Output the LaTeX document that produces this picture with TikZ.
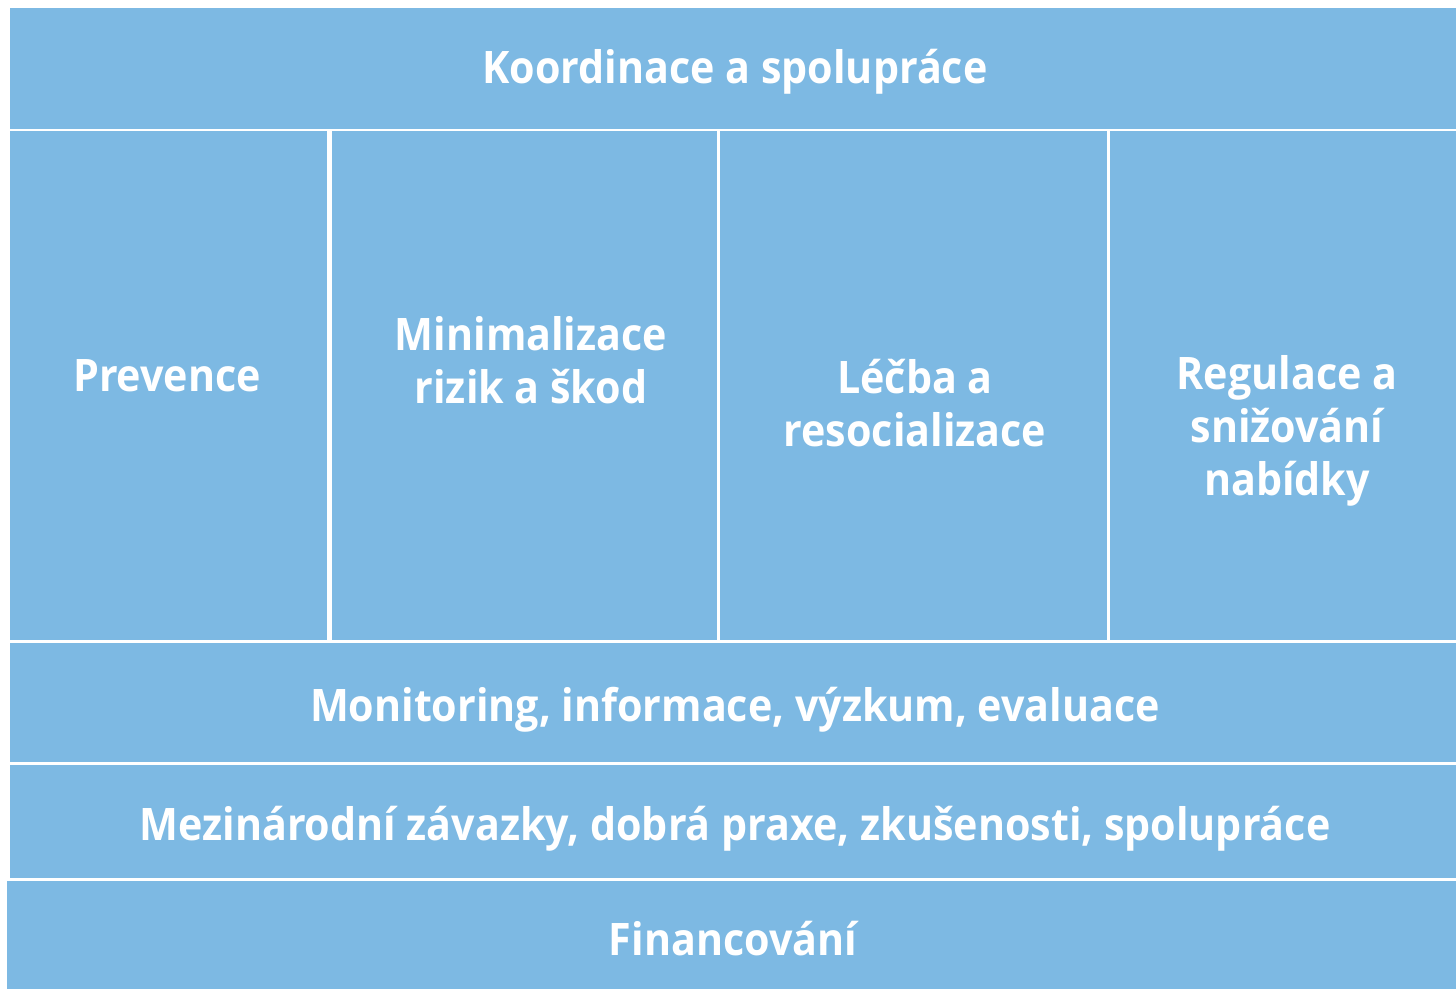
\documentclass[tikz,border=0pt]{standalone}
\usepackage{fontspec}
\setmainfont{Open Sans}[FakeStretch=0.92]
\definecolor{boxblue}{RGB}{125,185,227}
\begin{document}
\begin{tikzpicture}[x=0.5pt,y=-0.5pt,
  box/.style={fill=boxblue, draw=none, inner sep=0pt, anchor=north west},
  lbl/.style={text=white, font=\fontsize{22.4}{26.5}\selectfont\bfseries, align=center, inner sep=0pt},
  lblb/.style={lbl, anchor=base}]
\useasboundingbox (0,0) rectangle (1456,989);
\fill[white] (0,0) rectangle (1456,989);
% boxes
\node[box, minimum width=723pt, minimum height=60.5pt] (top) at (10,8) {};
\node[box, minimum width=158.5pt, minimum height=254.5pt] (prev) at (10,131) {};
\node[box, minimum width=192.5pt, minimum height=254.5pt] (mini) at (332,131) {};
\node[box, minimum width=193.5pt, minimum height=254.5pt] (lecba) at (720,131) {};
\node[box, minimum width=173pt, minimum height=254.5pt] (regu) at (1110,131) {};
\node[box, minimum width=723pt, minimum height=59.5pt] (moni) at (10,643) {};
\node[box, minimum width=723pt, minimum height=56.5pt] (mezi) at (10,765) {};
\node[box, minimum width=724.5pt, minimum height=54pt] (fin) at (7,881) {};
% labels
\node[lblb] (tTop) at (735,84) {Koordinace a spolupráce};
\node[lblb] (tPrev) at (167,392) {Prevence};
\node[lbl] (tMini) at (531,360) {Minimalizace\\rizik a škod};
\node[lbl] (tLecba) at (915,403) {Léčba a\\resocializace};
\node[lbl] (tRegu) at (1287,431) {Regulace a\\snižování\\nabídky};
\node[lblb] (tMoni) at (735,721) {Monitoring, informace, výzkum, evaluace};
\node[lblb] (tMezi) at (735,840) {Mezinárodní závazky, dobrá praxe, zkušenosti, spolupráce};
\node[lblb] (tFin) at (733,955) {Financování};
\end{tikzpicture}
\end{document}
